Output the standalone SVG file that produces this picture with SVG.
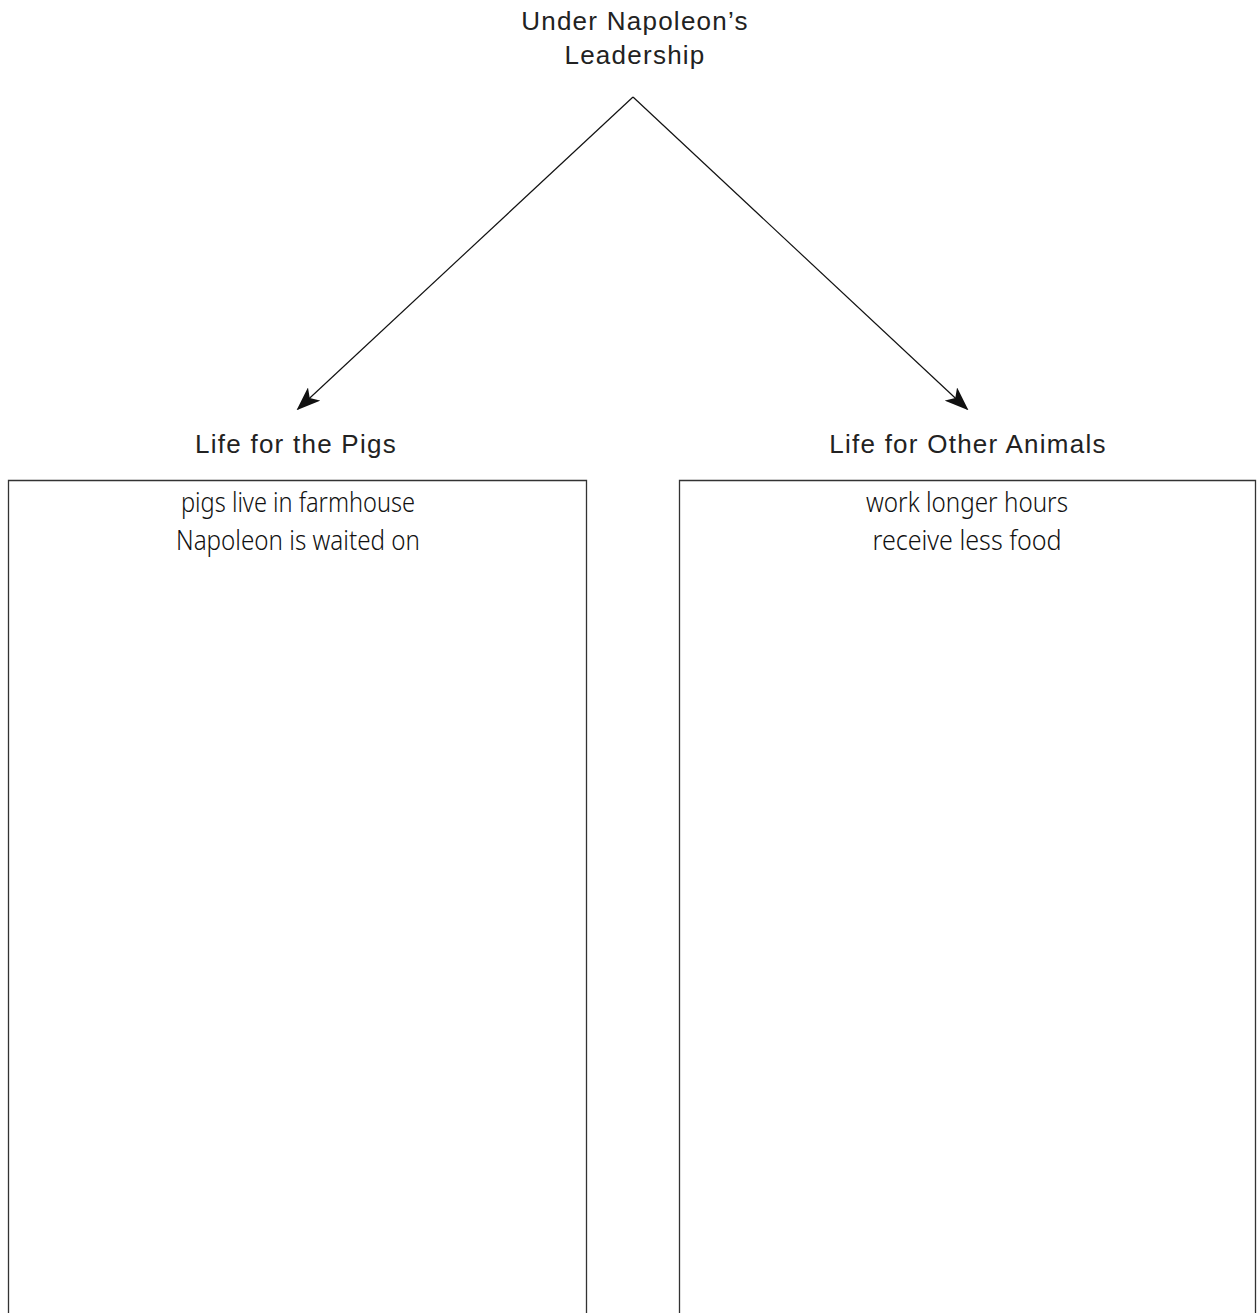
<svg xmlns="http://www.w3.org/2000/svg" width="1259" height="1313" viewBox="0 0 1259 1313">
<style>
.h{font-family:"Liberation Sans",Arial,sans-serif;font-size:26px;fill:#222;text-anchor:middle;letter-spacing:1.25px}
.w{font-family:"Noto Sans","Open Sans",sans-serif;font-weight:300;font-size:28px;fill:#111;text-anchor:middle}
.box{fill:none;stroke:#333;stroke-width:1.3}
.c{fill:none;stroke:#111;stroke-width:1.2}
</style>
<defs>
<marker id="ah" viewBox="0 0 24 18" refX="22" refY="9" markerWidth="24" markerHeight="18" markerUnits="userSpaceOnUse" orient="auto">
<path d="M0,0 L24,9 L0,18 L6,9 Z" fill="#111"/>
</marker>
</defs>
<rect width="1259" height="1313" fill="#fff"/>
<g id="root">
<text class="h" x="635" y="30">Under Napoleon’s</text>
<text class="h" x="635" y="64">Leadership</text>
</g>
<g id="connectors">
<line class="c" x1="633" y1="97" x2="298" y2="409" marker-end="url(#ah)"/>
<line class="c" x1="633" y1="97" x2="967" y2="409" marker-end="url(#ah)"/>
</g>
<g id="pigs">
<text class="h" x="296" y="453">Life for the Pigs</text>
<path class="box" d="M8.5,1320 V480.5 H586.5 V1320"/>
<text class="w" x="298" y="512" textLength="234" lengthAdjust="spacingAndGlyphs">pigs live in farmhouse</text>
<text class="w" x="298" y="550" textLength="244" lengthAdjust="spacingAndGlyphs">Napoleon is waited on</text>
</g>
<g id="others">
<text class="h" x="968" y="453">Life for Other Animals</text>
<path class="box" d="M679.5,1320 V480.5 H1255.5 V1320"/>
<text class="w" x="967" y="512" textLength="202" lengthAdjust="spacingAndGlyphs">work longer hours</text>
<text class="w" x="967" y="550" textLength="189" lengthAdjust="spacingAndGlyphs">receive less food</text>
</g>
</svg>
